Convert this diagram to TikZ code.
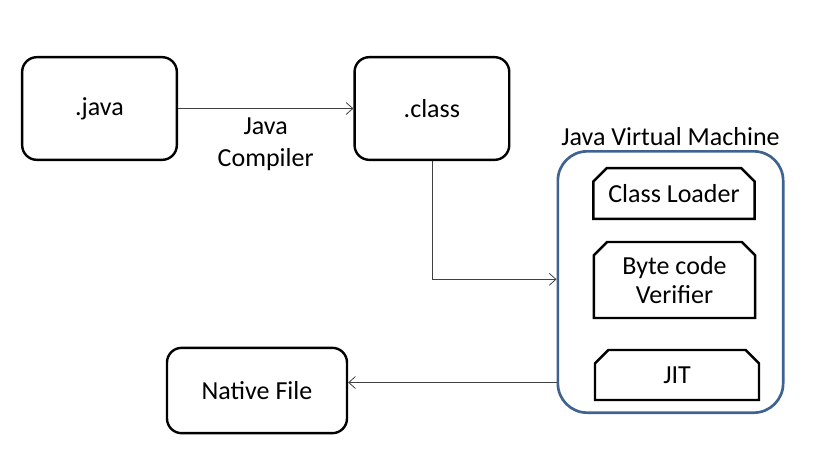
\documentclass[tikz,border=0pt]{standalone}
\usepackage{fontspec}
\setmainfont{Carlito}
\usepackage{tikz}
\usetikzlibrary{positioning}
\usetikzlibrary{shapes.misc}
\usetikzlibrary{arrows.meta}
\definecolor{jvmblue}{HTML}{3F6391}
\definecolor{linegray}{HTML}{404040}
\tikzset{>={Straight Barb[length=5pt,width=9pt]}}
\tikzstyle{line} = [draw=linegray, line width=0.6pt, ->]
\tikzstyle{file} = [draw, line width=1.8pt, rounded corners=11pt, align=center]
\tikzstyle{part} = [draw, line width=1.8pt, chamfered rectangle,
  chamfered rectangle corners={north west, north east},
  chamfered rectangle xsep=5pt, chamfered rectangle ysep=5pt,
  inner sep=0pt, align=center]

\begin{document}
\begin{tikzpicture}[x=0.75pt, y=-0.75pt, font=\fontsize{19.5}{22}\selectfont]
    \useasboundingbox (0,0) rectangle (825,469);
    \node [file, minimum width=116pt, minimum height=77pt] (java) at (99.5,108.5) {.java};
    \node [file, minimum width=116pt, minimum height=77pt, right=131.5pt of java] (class) {.class};
    \node [draw=jvmblue, line width=2pt, rounded corners=22pt, minimum width=169pt, minimum height=196pt] (jvm) at (670.5,282) {};
    \node [above=0pt of jvm] (jvmlabel) {Java Virtual Machine};
    \node [part, minimum width=121pt, minimum height=38pt] (loader) at (674,193.5) {Class Loader};
    \node [part, minimum width=121pt, minimum height=57pt] (verifier) at (674.5,280) {Byte code\\Verifier};
    \node [part, minimum width=123pt, minimum height=37.5pt] (jit) at (677,375) {JIT};
    \node [file, minimum width=135pt, minimum height=64pt] (native) at (257,390.5) {Native File};
    %% Flows
    \path [line] (java) to node [midway, below=3pt, align=center, font=\fontsize{19.5}{24}\selectfont] (compiler) {Java\\Compiler} (class);
    \coordinate [yshift=2pt] (jvmin) at (jvm.west);
    \path [line] (class.south) |- (jvmin);
    \coordinate [yshift=6pt] (nativein) at (native.east);
    \path [line] (jvm.west |- nativein) -- (nativein);
\end{tikzpicture}
\end{document}
